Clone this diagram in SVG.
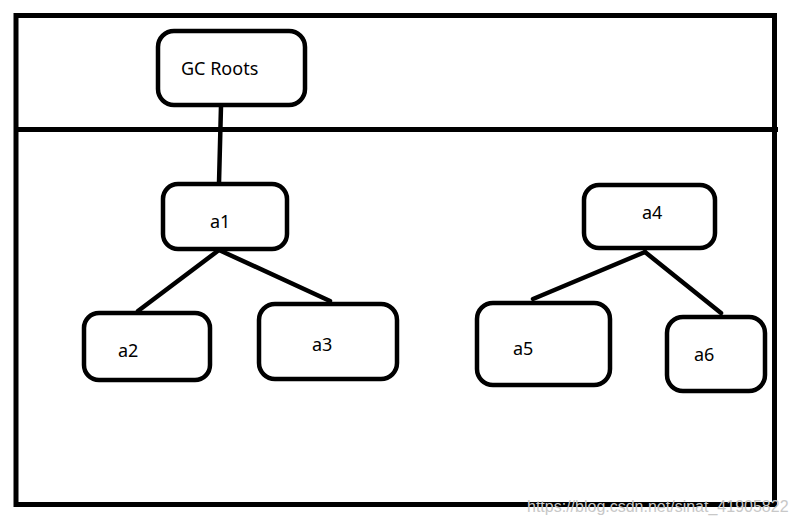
<svg xmlns="http://www.w3.org/2000/svg" width="796" height="524" viewBox="0 0 796 524">
<style>
.box{fill:#fff;stroke:#000;stroke-width:4.5}
.frame{fill:none;stroke:#000;stroke-width:5}
.edge{stroke:#000;stroke-width:4.5;fill:none;stroke-linecap:round}
.lbl{font-family:"Noto Sans","Open Sans",sans-serif;font-size:18px;fill:#000}
.wm{font-family:"Liberation Sans",Arial,sans-serif;font-size:16px;fill:#c8c8c8}
</style>
<rect width="796" height="524" fill="#fff"/>
<g id="frame">
<rect class="frame" x="16" y="15.5" width="758.5" height="489"/>
<line class="frame" x1="16" y1="129.5" x2="778" y2="129.5"/>
</g>
<g id="connectors">
<line class="edge" x1="221" y1="106" x2="219" y2="183"/>
<line class="edge" x1="219" y1="250" x2="138" y2="311"/>
<line class="edge" x1="219" y1="250" x2="330" y2="301"/>
<line class="edge" x1="645" y1="252" x2="533" y2="299"/>
<line class="edge" x1="645" y1="252" x2="721" y2="313"/>
</g>
<g id="gcroots"><rect class="box" x="158" y="31" width="147" height="74" rx="16"/><text class="lbl" x="181" y="75">GC Roots</text></g>
<g id="a1"><rect class="box" x="163" y="184" width="124" height="65" rx="15"/><text class="lbl" x="210" y="228">a1</text></g>
<g id="a2"><rect class="box" x="84" y="313" width="126" height="67" rx="15"/><text class="lbl" x="118" y="357">a2</text></g>
<g id="a3"><rect class="box" x="259" y="304" width="138" height="75" rx="16"/><text class="lbl" x="312" y="351">a3</text></g>
<g id="a4"><rect class="box" x="584" y="185" width="131" height="63" rx="15"/><text class="lbl" x="642" y="219">a4</text></g>
<g id="a5"><rect class="box" x="477" y="303" width="133" height="82" rx="16"/><text class="lbl" x="513" y="355">a5</text></g>
<g id="a6"><rect class="box" x="667" y="317" width="98" height="74" rx="16"/><text class="lbl" x="694" y="361">a6</text></g>
<text class="wm" x="527" y="512">https://blog.csdn.net/sinat_41905822</text>
</svg>
